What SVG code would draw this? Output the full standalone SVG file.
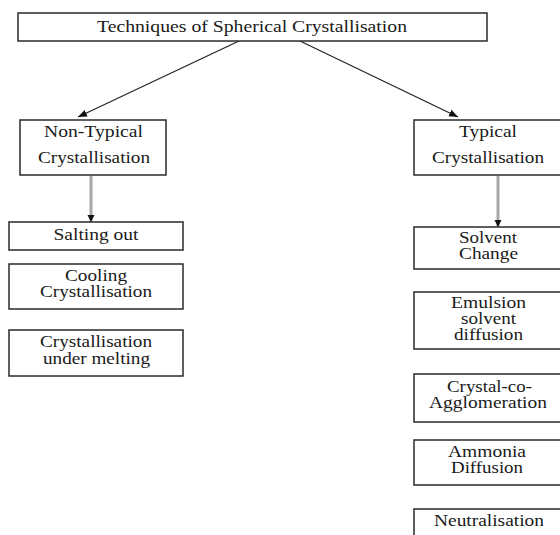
<svg xmlns="http://www.w3.org/2000/svg" width="560" height="535" viewBox="0 0 560 535">
<style>
.box{fill:#fff;stroke:#2a2a2a;stroke-width:1.5}
text{font-family:"Liberation Serif","Times New Roman",serif;font-size:16px;fill:#1a1a1a;text-anchor:middle}
.main{stroke:#222;stroke-width:1.2;fill:none}
.gray{stroke:#a8a8a8;stroke-width:3;fill:none}
</style>
<defs>
<marker id="ah" viewBox="0 0 10 10" refX="10" refY="5" markerWidth="9" markerHeight="9" markerUnits="userSpaceOnUse" orient="auto">
<path d="M0,1 L10,5 L0,9 Z" fill="#111"/>
</marker>
<marker id="ahs" viewBox="0 0 10 10" refX="10" refY="5" markerWidth="7" markerHeight="8" markerUnits="userSpaceOnUse" orient="auto">
<path d="M0,0 L10,5 L0,10 Z" fill="#111"/>
</marker>
</defs>
<rect width="560" height="535" fill="#fff"/>
<g id="connectors">
<line class="main" x1="239" y1="41" x2="78" y2="117" marker-end="url(#ah)"/>
<line class="main" x1="300" y1="41" x2="458" y2="117" marker-end="url(#ah)"/>
<line class="gray" x1="91" y1="176" x2="91" y2="222" marker-end="url(#ahs)"/>
<line class="gray" x1="498" y1="176" x2="498" y2="227" marker-end="url(#ahs)"/>
</g>
<g id="title">
<rect class="box" x="18" y="13" width="469" height="28"/>
<text x="252" y="32" textLength="310" lengthAdjust="spacingAndGlyphs">Techniques of Spherical Crystallisation</text>
</g>
<g id="non-typical">
<rect class="box" x="20" y="120" width="146" height="55"/>
<text x="93.5" y="137" textLength="99" lengthAdjust="spacingAndGlyphs">Non-Typical</text>
<text x="94" y="163" textLength="112" lengthAdjust="spacingAndGlyphs">Crystallisation</text>
</g>
<g id="salting-out">
<rect class="box" x="9" y="222" width="174" height="28"/>
<text x="96" y="240" textLength="85" lengthAdjust="spacingAndGlyphs">Salting out</text>
</g>
<g id="cooling">
<rect class="box" x="9" y="264" width="174" height="45"/>
<text x="96" y="281" textLength="62" lengthAdjust="spacingAndGlyphs">Cooling</text>
<text x="96" y="297" textLength="112" lengthAdjust="spacingAndGlyphs">Crystallisation</text>
</g>
<g id="melting">
<rect class="box" x="9" y="330" width="174" height="46"/>
<text x="96" y="347" textLength="112" lengthAdjust="spacingAndGlyphs">Crystallisation</text>
<text x="96.5" y="364" textLength="107" lengthAdjust="spacingAndGlyphs">under melting</text>
</g>
<g id="typical">
<rect class="box" x="414" y="120" width="148" height="55"/>
<text x="488" y="137" textLength="58" lengthAdjust="spacingAndGlyphs">Typical</text>
<text x="488" y="163" textLength="112" lengthAdjust="spacingAndGlyphs">Crystallisation</text>
</g>
<g id="solvent-change">
<rect class="box" x="414" y="227" width="148" height="42"/>
<text x="488" y="243" textLength="58" lengthAdjust="spacingAndGlyphs">Solvent</text>
<text x="488.5" y="259" textLength="59" lengthAdjust="spacingAndGlyphs">Change</text>
</g>
<g id="emulsion">
<rect class="box" x="414" y="292" width="148" height="57"/>
<text x="488.5" y="308" textLength="75" lengthAdjust="spacingAndGlyphs">Emulsion</text>
<text x="488.5" y="324" textLength="55" lengthAdjust="spacingAndGlyphs">solvent</text>
<text x="488.5" y="340" textLength="69" lengthAdjust="spacingAndGlyphs">diffusion</text>
</g>
<g id="crystal-co">
<rect class="box" x="414" y="374" width="148" height="48"/>
<text x="489.5" y="392" textLength="85" lengthAdjust="spacingAndGlyphs">Crystal-co-</text>
<text x="488" y="408" textLength="118" lengthAdjust="spacingAndGlyphs">Agglomeration</text>
</g>
<g id="ammonia">
<rect class="box" x="414" y="440" width="148" height="45"/>
<text x="487" y="457" textLength="78" lengthAdjust="spacingAndGlyphs">Ammonia</text>
<text x="487" y="473" textLength="72" lengthAdjust="spacingAndGlyphs">Diffusion</text>
</g>
<g id="neutralisation">
<rect class="box" x="414" y="509" width="148" height="40"/>
<text x="489" y="526" textLength="110" lengthAdjust="spacingAndGlyphs">Neutralisation</text>
</g>
</svg>
